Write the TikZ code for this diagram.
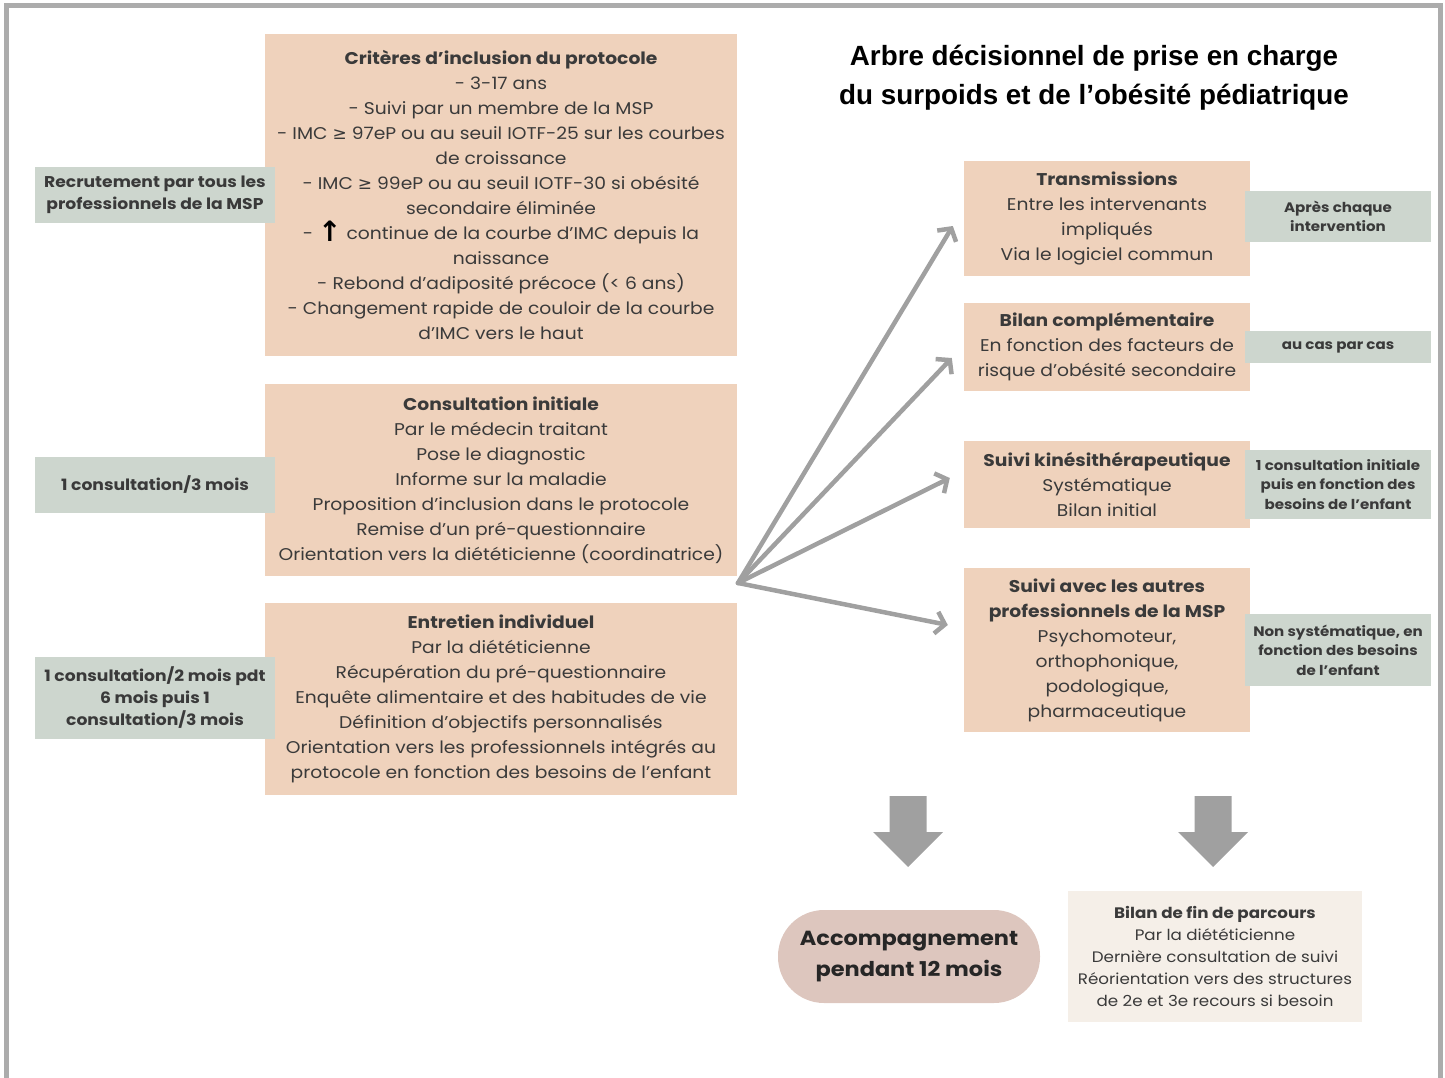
\documentclass[tikz,border=0pt]{standalone}
\usepackage{fontspec}
\setmainfont{Poppins}[FakeStretch=1.1]
\newfontfamily\titlefont{Liberation Sans}
\newfontfamily\symfont{DejaVu Sans}
\usepackage{tikz}
\usetikzlibrary{arrows.meta,shapes,positioning}
\usepackage{xcolor}
\definecolor{arbsalmon}{RGB}{239,210,188}
\definecolor{arbsage}{RGB}{205,214,206}
\definecolor{arbrose}{RGB}{221,198,190}
\definecolor{arbcream}{RGB}{245,239,232}
\definecolor{arbgrey}{RGB}{160,160,160}
\definecolor{arbframe}{RGB}{172,172,172}
\definecolor{arbtext}{RGB}{58,58,58}
\tikzstyle{process} = [rectangle, align=center, fill=arbsalmon, text=arbtext, inner sep=0pt, font=\fontsize{17}{25}\selectfont]
\tikzstyle{freq} = [rectangle, align=center, fill=arbsage, text=arbtext, inner sep=0pt, font=\bfseries\fontsize{15.6}{22}\selectfont, minimum width=240pt]
\tikzstyle{freqsmall} = [freq, font=\bfseries\fontsize{13.7}{19.5}\selectfont, minimum width=186pt]
\tikzstyle{fan} = [line width=4.5pt, color=arbgrey, line cap=round, -{Straight Barb[length=9pt,width=22pt]}]
\newcommand{\geqsym}{{\symfont ≥}}

\begin{document}
\begin{tikzpicture}[x=1pt, y=-1pt]
\useasboundingbox (0,0) rectangle (1445,1078);
\draw[arbframe, line width=5pt] (6.5,1090) |- (1440,5.5) -- (1440,1090);

% left column
\node (crit) [process, minimum width=472pt, minimum height=322pt] at (501,195) {\textbf{Critères d’inclusion du protocole}\\
- 3-17 ans\\
- Suivi par un membre de la MSP\\
- IMC \geqsym{} 97eP ou au seuil IOTF-25 sur les courbes\\
de croissance\\
- IMC \geqsym{} 99eP ou au seuil IOTF-30 si obésité\\
secondaire éliminée\\
- \raisebox{-2pt}{\symfont\bfseries\color{black}\fontsize{28}{25}\selectfont ↑} continue de la courbe d’IMC depuis la\\
naissance\\
- Rebond d’adiposité précoce (< 6 ans)\\
- Changement rapide de couloir de la courbe\\
d’IMC vers le haut};
\node (consult) [process, minimum width=472pt, minimum height=192pt] at (501,480) {\textbf{Consultation initiale}\\
Par le médecin traitant\\
Pose le diagnostic\\
Informe sur la maladie\\
Proposition d’inclusion dans le protocole\\
Remise d’un pré-questionnaire\\
Orientation vers la diététicienne (coordinatrice)};
\node (entretien) [process, minimum width=472pt, minimum height=192pt] at (501,699) {\textbf{Entretien individuel}\\
Par la diététicienne\\
Récupération du pré-questionnaire\\
Enquête alimentaire et des habitudes de vie\\
Définition d’objectifs personnalisés\\
Orientation vers les professionnels intégrés au\\
protocole en fonction des besoins de l’enfant};

\node (recrut) [freq, minimum height=56pt] at (155,195) {Recrutement par tous les\\professionnels de la MSP};
\node (rythme1) [freq, minimum height=56pt] at (155,485) {1 consultation/3 mois};
\node (rythme2) [freq, minimum height=82pt] at (155,698) {1 consultation/2 mois pdt\\6 mois puis 1\\consultation/3 mois};

% title
\node (title) [align=center, font=\titlefont\bfseries\fontsize{27.8}{39}\selectfont] at (1094,78) {Arbre décisionnel de prise en charge\\du surpoids et de l’obésité pédiatrique};

% right column
\node (trans) [process, minimum width=286pt, minimum height=114pt] at (1107,218.5) {\textbf{Transmissions}\\
Entre les intervenants\\
impliqués\\
Via le logiciel commun};
\node (bilanc) [process, minimum width=286pt, minimum height=88pt] at (1107,347) {\textbf{Bilan complémentaire}\\
En fonction des facteurs de\\
risque d’obésité secondaire};
\node (kine) [process, minimum width=286pt, minimum height=87pt] at (1107,484.5) {\textbf{Suivi kinésithérapeutique}\\
Systématique\\
Bilan initial};
\node (autres) [process, minimum width=286pt, minimum height=164pt] at (1107,650) {\textbf{Suivi avec les autres}\\
\textbf{professionnels de la MSP}\\
Psychomoteur,\\
orthophonique,\\
podologique,\\
pharmaceutique};

\node (apres) [freqsmall, minimum height=51pt] at (1338,216.5) {Après chaque\\intervention};
\node (cas) [freqsmall, minimum height=32pt] at (1338,347) {au cas par cas};
\node (kinefreq) [freqsmall, minimum height=69pt] at (1338,484.5) {1 consultation initiale\\puis en fonction des\\besoins de l'enfant};
\node (nonsys) [freqsmall, minimum height=72pt] at (1338,650) {Non systématique, en\\fonction des besoins\\de l'enfant};

% fan of arrows
\coordinate (hub) at (738,583);
\draw[fan] (hub) -- ([xshift=-11pt,yshift=-7.5pt]trans.west);
\draw[fan] (hub) -- ([xshift=-12pt,yshift=-11pt]bilanc.west);
\draw[fan] (hub) -- ([xshift=-14pt,yshift=6.5pt]kine.west);
\draw[fan] (hub) -- ([xshift=-16pt,yshift=25pt]autres.west);

% bottom
\foreach \cx in {908,1213}
  \fill[arbgrey] (\cx-18.5,796) -- (\cx+18.5,796) -- (\cx+18.5,832) -- (\cx+35,832) -- (\cx,867) -- (\cx-35,832) -- (\cx-18.5,832) -- cycle;
\node (accomp) [rectangle, rounded corners=46pt, fill=arbrose, text=black!85, align=center, minimum width=262pt, minimum height=93pt, inner sep=0pt, font=\bfseries\fontsize{20.4}{31}\selectfont] at (909,956.5) {Accompagnement\\pendant 12 mois};
\node (bilanfin) [rectangle, fill=arbcream, text=arbtext, align=center, minimum width=294pt, minimum height=131pt, inner sep=0pt, font=\fontsize{15.2}{22}\selectfont] at (1215,956.5) {\textbf{Bilan de fin de parcours}\\
Par la diététicienne\\
Dernière consultation de suivi\\
Réorientation vers des structures\\
de 2e et 3e recours si besoin};
\end{tikzpicture}
\end{document}
